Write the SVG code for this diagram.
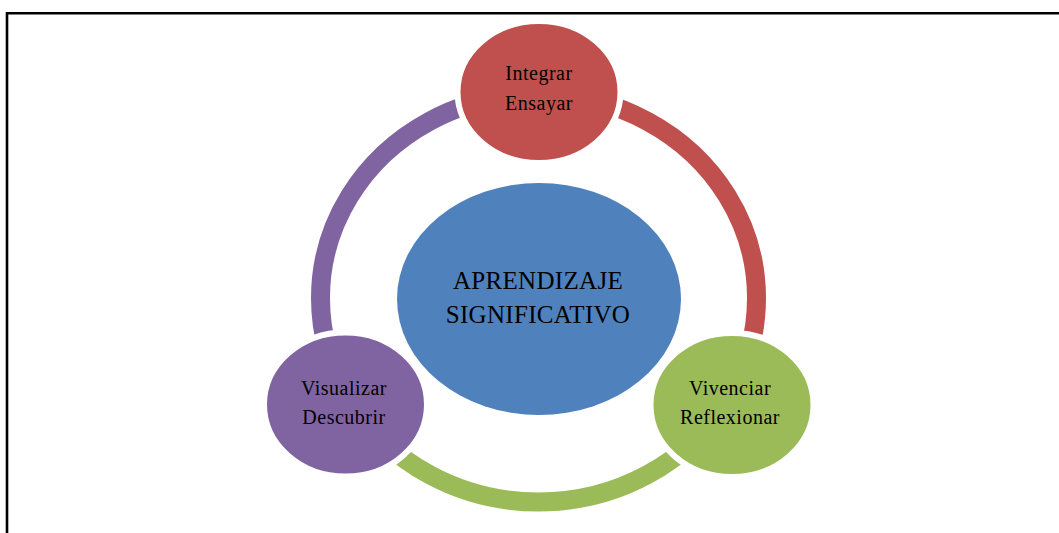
<svg xmlns="http://www.w3.org/2000/svg" width="1059" height="533" viewBox="0 0 1059 533">
  <style>
    .frame { stroke: #000; stroke-width: 2.6; fill: none; }
    .ring { fill: none; stroke-width: 19; }
    .node { stroke: #fff; stroke-width: 6; }
    .lbl { font-family: "Liberation Serif", "Times New Roman", serif; font-size: 20px; letter-spacing: 0.5px; fill: #000; text-anchor: middle; }
    .big { font-family: "Liberation Serif", "Times New Roman", serif; font-size: 25px; letter-spacing: 0.3px; fill: #000; text-anchor: middle; }
  </style>
  <rect width="1059" height="533" fill="#fff"/>
  <path class="frame" d="M7 533 V13.3 H1059"/>
  <g id="connectors">
    <path class="ring" stroke="#C0504D" d="M538.5 94 A218 204 0 0 1 727.3 400"/>
    <path class="ring" stroke="#9BBB59" d="M727.3 400 A218 204 0 0 1 349.7 400"/>
    <path class="ring" stroke="#8064A2" d="M349.7 400 A218 204 0 0 1 538.5 94"/>
  </g>
  <g id="center">
    <ellipse cx="539" cy="299" rx="142" ry="116" fill="#4F81BD"/>
    <text class="big" x="538" y="289">APRENDIZAJE</text>
    <text class="big" x="538" y="323">SIGNIFICATIVO</text>
  </g>
  <g id="node-top">
    <ellipse class="node" cx="539" cy="92" rx="81.5" ry="71" fill="#C0504D"/>
    <text class="lbl" x="539" y="80">Integrar</text>
    <text class="lbl" x="539" y="110">Ensayar</text>
  </g>
  <g id="node-right">
    <ellipse class="node" cx="732" cy="405" rx="81.5" ry="72" fill="#9BBB59"/>
    <text class="lbl" x="730" y="395">Vivenciar</text>
    <text class="lbl" x="730" y="424">Reflexionar</text>
  </g>
  <g id="node-left">
    <ellipse class="node" cx="345.5" cy="404.5" rx="81.5" ry="72" fill="#8064A2"/>
    <text class="lbl" x="344" y="395">Visualizar</text>
    <text class="lbl" x="344" y="424">Descubrir</text>
  </g>
</svg>
